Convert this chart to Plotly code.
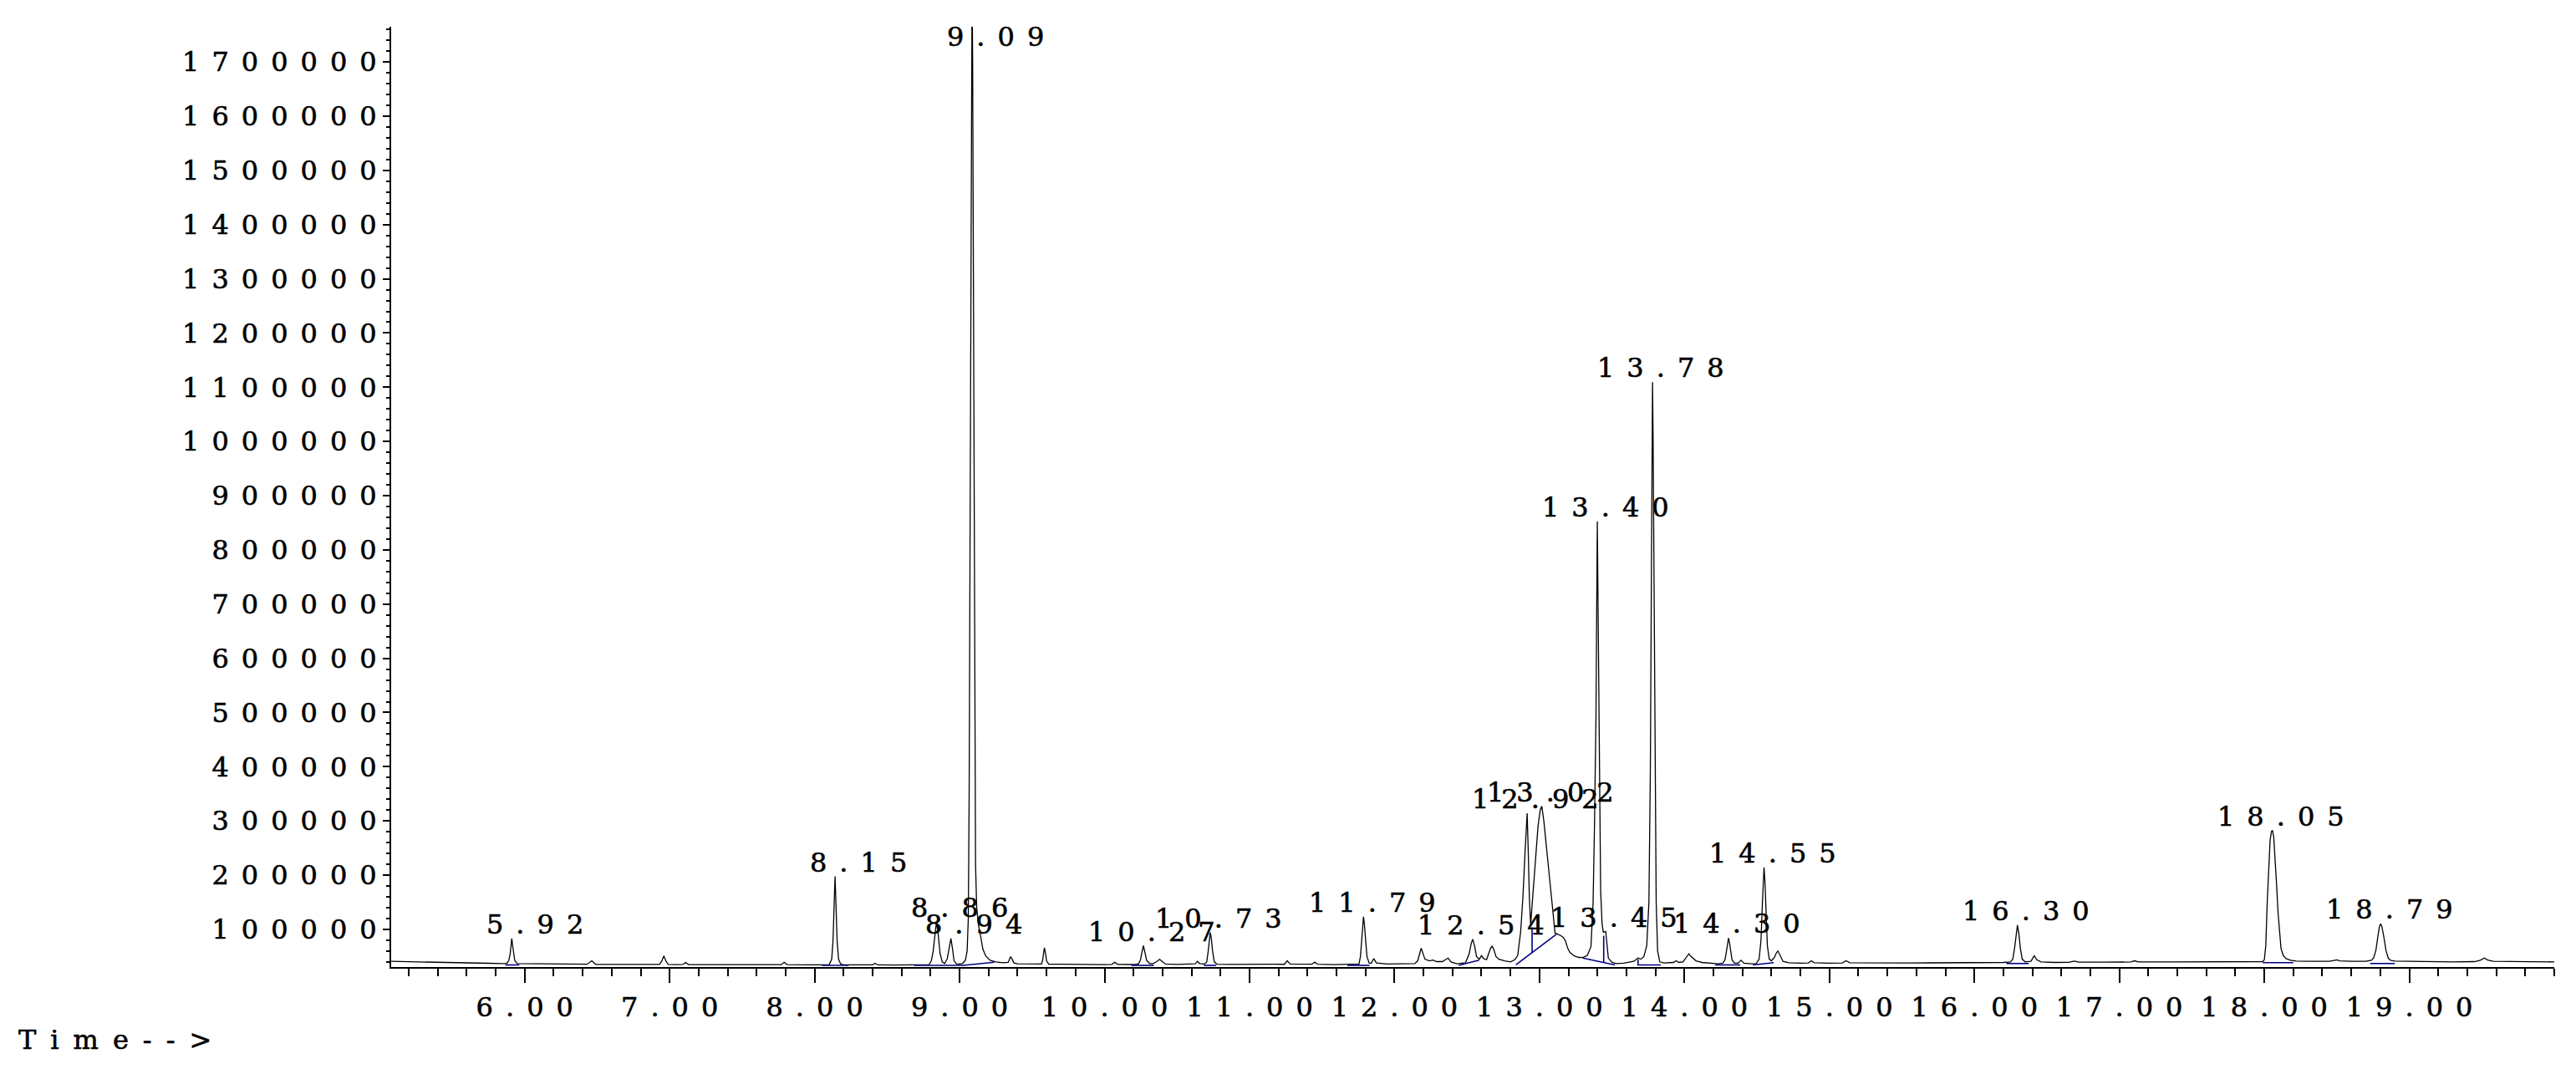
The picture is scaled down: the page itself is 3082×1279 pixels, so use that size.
import plotly.graph_objects as go

# ---------------- data ----------------
# retention time (min) / abundance of the total-ion trace
trace_time = [
    5.08, 5.15, 5.22, 5.30, 5.38, 5.45, 5.55, 5.65, 5.75, 5.84,
    5.875, 5.89, 5.90, 5.906, 5.911, 5.917, 5.923, 5.932, 5.95,
    6.02, 6.12, 6.22, 6.32, 6.43, 6.463, 6.49, 6.60, 6.72, 6.84,
    6.93, 6.945, 6.96, 6.975, 6.99, 7.05, 7.09, 7.11, 7.13, 7.30, 7.50, 7.70,
    7.77, 7.79, 7.81, 7.95, 8.10, 8.118, 8.127, 8.134, 8.141, 8.148, 8.155,
    8.165, 8.18, 8.20, 8.30, 8.40, 8.416, 8.435, 8.55, 8.70, 8.79, 8.805,
    8.818, 8.83, 8.841, 8.852, 8.865, 8.88, 8.897, 8.915, 8.93, 8.94, 8.95,
    8.962, 8.978, 8.995, 9.02, 9.04, 9.052, 9.06, 9.066, 9.072, 9.078, 9.083,
    9.086, 9.09, 9.095, 9.10, 9.105, 9.11, 9.118, 9.13, 9.145, 9.16, 9.18,
    9.21, 9.25, 9.30, 9.335, 9.345, 9.352, 9.362, 9.375, 9.40, 9.46, 9.52,
    9.565, 9.572, 9.578, 9.585, 9.593, 9.60, 9.615, 9.70, 9.80, 9.90, 10.00,
    10.05, 10.07, 10.09, 10.20, 10.235, 10.248, 10.258, 10.268, 10.279, 10.29,
    10.31, 10.335, 10.36, 10.38, 10.40, 10.42, 10.50, 10.60, 10.625, 10.64,
    10.655, 10.69, 10.705, 10.715, 10.723, 10.729, 10.736, 10.745, 10.757,
    10.775, 10.85, 10.95, 11.05, 11.15, 11.24, 11.26, 11.28, 11.36, 11.43,
    11.45, 11.47, 11.58, 11.70, 11.755, 11.765, 11.774, 11.781, 11.786, 11.792,
    11.80, 11.81, 11.825, 11.84, 11.857, 11.875, 11.95, 12.05, 12.14, 12.16,
    12.172, 12.184, 12.197, 12.21, 12.24, 12.265, 12.29, 12.33, 12.37, 12.39,
    12.43, 12.49, 12.515, 12.53, 12.54, 12.552, 12.566, 12.585, 12.60, 12.615,
    12.635, 12.65, 12.664, 12.674, 12.686, 12.70, 12.72, 12.76, 12.80, 12.83,
    12.85, 12.87, 12.886, 12.90, 12.91, 12.915, 12.922, 12.93, 12.939, 12.95,
    12.97, 12.99, 13.005, 13.016, 13.03, 13.05, 13.07, 13.09, 13.107, 13.13,
    13.15, 13.165, 13.18, 13.195, 13.21, 13.24, 13.27, 13.30, 13.33, 13.355,
    13.37, 13.38, 13.39, 13.395, 13.399, 13.404, 13.41, 13.416, 13.422, 13.432,
    13.44, 13.457, 13.465, 13.475, 13.50, 13.53, 13.58, 13.62, 13.65, 13.68,
    13.70, 13.72, 13.74, 13.755, 13.765, 13.772, 13.777, 13.78, 13.784, 13.79,
    13.797, 13.805, 13.815, 13.83, 13.86, 13.90, 13.925, 13.943, 13.96, 13.99,
    14.01, 14.03, 14.045, 14.06, 14.08, 14.12, 14.18, 14.23, 14.265, 14.28,
    14.29, 14.297, 14.304, 14.311, 14.318, 14.328, 14.345, 14.37, 14.39, 14.41,
    14.46, 14.495, 14.515, 14.528, 14.538, 14.544, 14.549, 14.555, 14.562,
    14.572, 14.585, 14.60, 14.62, 14.635, 14.645, 14.66, 14.68, 14.72, 14.80,
    14.855, 14.875, 14.895, 15.00, 15.09, 15.115, 15.14, 15.30, 15.50, 15.70,
    15.90, 16.10, 16.20, 16.25, 16.265, 16.277, 16.287, 16.297, 16.307, 16.317,
    16.33, 16.35, 16.39, 16.413, 16.43, 16.46, 16.55, 16.65, 16.69, 16.72,
    16.90, 17.08, 17.105, 17.13, 17.40, 17.70, 17.97, 17.99, 18.00, 18.01,
    18.02, 18.03, 18.04, 18.05, 18.057, 18.065, 18.075, 18.085, 18.095, 18.105,
    18.115, 18.13, 18.15, 18.18, 18.22, 18.30, 18.45, 18.48, 18.50, 18.52,
    18.60, 18.70, 18.74, 18.755, 18.77, 18.785, 18.795, 18.803, 18.812, 18.825,
    18.84, 18.855, 18.87, 18.90, 19.10, 19.30, 19.45, 19.49, 19.518, 19.54,
    19.58, 19.80, 20.00,
]
trace_signal = [
    41000, 40500, 40200, 39500, 39300, 38600, 38300, 37600, 37400, 36800,
    37000, 42000, 55000, 70000, 83200, 70000, 55000, 42000, 36800,
    36500, 36200, 36300, 35700, 35600, 42000, 35500, 35300, 35400, 35000,
    35200, 41000, 50800, 41000, 35300, 35000, 35200, 39000, 35100, 34800, 34900, 34600,
    34800, 39400, 35000, 34500, 34600, 45000, 80000, 140000, 197700, 140000, 80000,
    45000, 36000, 34600, 34500, 34400, 37500, 34400, 34300, 34400, 35000, 42000,
    60000, 90000, 114000, 92000, 56000, 40000, 37000, 46000, 70000, 83200, 66000,
    42000, 36500, 36000, 37000, 43000, 60000, 120000, 350000, 800000, 1300000, 1700000,
    1850000, 1700000, 1300000, 800000, 420000, 220000, 140000, 108000, 88000, 64000, 51000,
    43000, 40000, 38500, 39000, 46000, 49800, 45000, 38000, 36500, 36000, 35600,
    36000, 42000, 55000, 66200, 55000, 42000, 35800, 35400, 35000, 35200, 34900,
    35300, 39400, 35300, 35100, 36500, 44000, 58000, 69800, 57000, 43000,
    37000, 36800, 40500, 44700, 40000, 36000, 35300, 35500, 36500, 41000,
    37000, 36000, 40000, 60000, 85000, 94000, 85000, 60000, 40000,
    35800, 35300, 35700, 35200, 35600, 35500, 42000, 36000, 35300, 35600,
    39500, 35600, 35000, 35200, 36000, 50000, 80000, 110000, 123300, 110000,
    80000, 50000, 38000, 37500, 46200, 38000, 36000, 36200, 36800, 42000,
    56000, 65200, 55000, 45000, 42000, 43500, 40500, 40500, 47000, 40000,
    36500, 38500, 55000, 75000, 81600, 70000, 50000, 45000, 51300, 46000,
    44000, 56000, 66000, 68700, 62000, 50000, 45000, 42000, 40000, 44000,
    52000, 95000, 160000, 240000, 300000, 314300, 250000, 160000, 108800, 150000,
    230000, 290000, 320000, 327100, 300000, 250000, 200000, 140000, 93400, 90900,
    88000, 85000, 78000, 65000, 57500, 51000, 48200, 48000, 52000, 68000,
    150000, 300000, 500000, 700000, 852500, 700000, 500000, 300000, 170000, 110000,
    95000, 96000, 70000, 47000, 39000, 37000, 37500, 39000, 41000, 47100,
    45000, 50000, 70000, 150000, 400000, 750000, 1000000, 1109400, 1000000, 700000,
    350000, 150000, 60000, 40000, 38000, 38500, 39000, 42000, 39000, 40000,
    48000, 54800, 50000, 47000, 42000, 39000, 37000, 36500, 37500, 44000,
    60000, 75000, 84100, 75000, 60000, 44000, 37500, 37500, 43100, 37500,
    36500, 37000, 45000, 80000, 150000, 200000, 214200, 190000, 130000,
    70000, 45000, 42000, 48000, 57000, 60100, 52000, 41000, 38500, 37500,
    38000, 42000, 38500, 37500, 38000, 42000, 38500, 37800, 38000, 38200,
    38300, 38500, 39000, 40000, 45000, 65000, 92000, 107900, 92000, 65000,
    45000, 40000, 41000, 51300, 44000, 40000, 39000, 39200, 41500, 39500,
    39500, 39800, 42000, 40000, 39800, 40000, 40000, 40500, 44000, 70000,
    150000, 220000, 265000, 281000, 282000, 270000, 230000, 180000, 130000, 90000,
    65000, 52000, 46000, 43000, 41500, 41000, 41000, 42500, 43600, 42000,
    41000, 41000, 43000, 48000, 62000, 90000, 106000, 110300, 104000, 85000,
    60000, 47000, 43000, 41500, 40500, 40000, 40500, 43000, 47100, 43500,
    41000, 40000, 40000,
]

# integration baselines (None separates the segments)
integ_time = [5.867, 5.963, None, 8.05, 8.235, None, 8.685, 9.025, 9.24, None,
              10.185, 10.34, None, 10.685, 10.77, None, 11.675, 11.828, None,
              12.443, 12.584, None, 12.837, 13.116, None, 12.949, 12.949, None,
              13.299, 13.52, None, 13.443, 13.443, None, 13.68, 13.68, 13.837, None,
              14.212, 14.385, None, 14.472, 14.616, None, 16.221, 16.375, None,
              17.99, 18.20, None, 18.73, 18.90]
integ_signal = [34400, 34400, None, 33500, 33500, None, 33500, 33500, 39400, None,
                33500, 33500, None, 33500, 33500, None, 33500, 33500, None,
                33500, 43100, None, 34400, 90900, None, 57000, 103700, None,
                47100, 34400, None, 38800, 88300, None, 44700, 34400, 34400, None,
                34400, 34400, None, 34400, 38500, None, 37000, 37000, None,
                38500, 38500, None, 37000, 37000]

# peak labels, retention time of apex and apex abundance
peak_labels = ["5.92", "8.15", "8.86", "8.94", "9.09", "10.27", "10.73", "11.79",
               "12.54", "12.92", "13.02", "13.40", "13.45", "13.78", "14.30",
               "14.55", "16.30", "18.05", "18.79"]
peak_times = [5.911, 8.141, 8.841, 8.94, 9.086, 10.268, 10.729, 11.786,
              12.54, 12.915, 13.016, 13.399, 13.457, 13.78, 14.304,
              14.549, 16.297, 18.056, 18.803]
peak_heights = [83200, 197700, 114000, 83200, 1850000, 69800, 94000, 123300,
                81600, 314300, 327100, 852500, 96000, 1109400, 84100,
                214200, 107900, 282000, 110300]

x_tick_values = [6, 7, 8, 9, 10, 11, 12, 13, 14, 15, 16, 17, 18, 19]
x_tick_labels = ["6.00", "7.00", "8.00", "9.00", "10.00", "11.00", "12.00",
                 "13.00", "14.00", "15.00", "16.00", "17.00", "18.00", "19.00"]
y_tick_values = [100000, 200000, 300000, 400000, 500000, 600000, 700000, 800000,
                 900000, 1000000, 1100000, 1200000, 1300000, 1400000, 1500000,
                 1600000, 1700000]
y_tick_labels = ["100000", "200000", "300000", "400000", "500000", "600000",
                 "700000", "800000", "900000", "1000000", "1100000", "1200000",
                 "1300000", "1400000", "1500000", "1600000", "1700000"]
x_label = "Time-->"

# ---------------- layout ----------------
W, H = 3082, 1279
ML, MR, MT, MB = 468, 26, 32, 122
X_RANGE = [5.079, 20.0]
Y_RANGE = [30500, 1765000]
FONT = "DejaVu Serif"
FS = 32
LS = 15                      # extra letter spacing (px) of the wide original font
STROKE = "stroke:black;stroke-width:0.6px"   # a little heavier than regular
DIGIT_W = 0.636 * FS
DOT_W = 0.318 * FS
TXT = dict(family=FONT, size=FS, color="black")


def spaced(s, ls=LS):
    """Wide-set text: letter spacing on every glyph but the last."""
    return ('<span style="letter-spacing:%dpx;%s">%s</span>'
            '<span style="%s">%s</span>') % (ls, STROKE, s[:-1], STROKE, s[-1])


fig = go.Figure()
fig.add_trace(go.Scatter(x=trace_time, y=trace_signal, mode="lines",
                         line=dict(color="black", width=1.3),
                         hoverinfo="skip", showlegend=False))
fig.add_trace(go.Scatter(x=integ_time, y=integ_signal, mode="lines",
                         line=dict(color="#000080", width=1.6),
                         connectgaps=False, hoverinfo="skip", showlegend=False))

annotations = []
for lab, t, v in zip(peak_labels, peak_times, peak_heights):
    n_int = len(lab.split(".")[0])
    xshift = 10 - (n_int * (DIGIT_W + LS) + DOT_W / 2) - 2
    common = dict(text=spaced(lab), showarrow=False, xanchor="left",
                  xshift=xshift, font=TXT)
    if v > Y_RANGE[1]:
        annotations.append(dict(x=t, y=1, xref="x", yref="paper",
                                yanchor="top", yshift=9, **common))
    else:
        annotations.append(dict(x=t, y=v, xref="x", yref="y",
                                yanchor="bottom", yshift=-4, **common))

plot_w = W - ML - MR
plot_h = H - MT - MB
annotations.append(dict(x=(20 - ML) / plot_w, y=((H - MB) - 1244) / plot_h,
                        xref="paper", yref="paper", text=spaced(x_label, 17),
                        showarrow=False, xanchor="left", yanchor="middle",
                        font=TXT))

fig.update_layout(
    width=W, height=H, autosize=False,
    margin=dict(l=ML, r=MR, t=MT, b=MB, pad=0),
    paper_bgcolor="white", plot_bgcolor="white",
    showlegend=False,
    annotations=annotations,
    xaxis=dict(range=X_RANGE, showgrid=False, zeroline=False,
               showline=True, linecolor="black", linewidth=2,
               ticks="outside", ticklen=17, tickwidth=1.5, tickcolor="black",
               tickmode="array", tickvals=x_tick_values,
               ticktext=[spaced(s) for s in x_tick_labels],
               tickfont=TXT,
               ticklabelstandoff=2,
               minor=dict(ticks="outside", ticklen=9, tickwidth=1.5,
                          tickcolor="black", tickmode="linear", tick0=5.0,
                          dtick=0.2, showgrid=False)),
    yaxis=dict(range=Y_RANGE, showgrid=False, zeroline=False,
               showline=True, linecolor="black", linewidth=2,
               ticks="outside", ticklen=8, tickwidth=1.5, tickcolor="black",
               tickmode="array", tickvals=y_tick_values,
               ticktext=[spaced(s) for s in y_tick_labels],
               tickfont=TXT,
               ticklabelstandoff=1,
               minor=dict(ticks="outside", ticklen=4, tickwidth=1.5,
                          tickcolor="black", tickmode="linear", tick0=0,
                          dtick=20000, showgrid=False)),
)

fig.write_html("out.html", config={"displayModeBar": False},
               post_script="document.body.style.margin='0px';")
